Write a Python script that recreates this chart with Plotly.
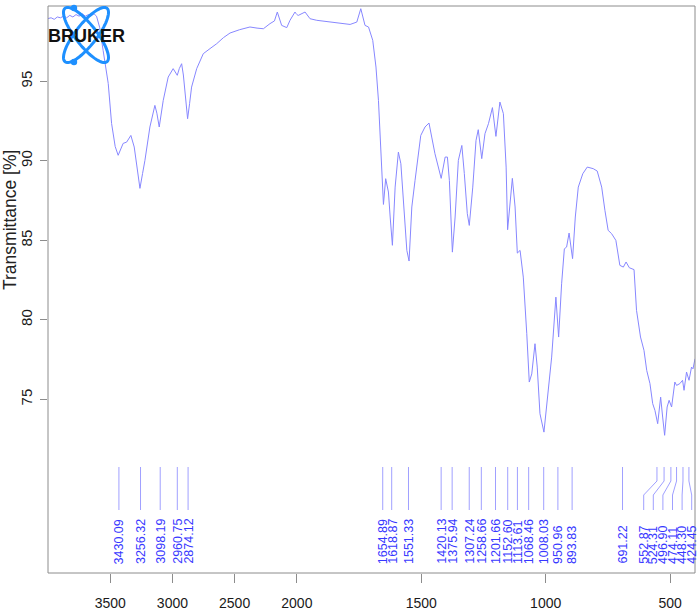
import numpy as np
import plotly.graph_objects as go

# ---------------- data ----------------
wavenumber = [4000, 3975, 3950, 3925, 3900, 3875, 3850, 3825, 3800, 3775, 3750, 3725, 3700, 3675, 3650, 3630, 3610,
              3585, 3557, 3535, 3516, 3489, 3460, 3436, 3415, 3396, 3368, 3334, 3307, 3285, 3261, 3240, 3221, 3181,
              3141, 3125, 3106, 3074, 3034, 2994, 2975, 2961, 2945, 2926, 2912, 2899, 2878, 2862, 2846, 2805, 2752,
              2698, 2644, 2590, 2537, 2460, 2377, 2320, 2269, 2216, 2180, 2157, 2140, 2122, 2081, 2055, 2015, 2000,
              1994, 1967, 1947, 1920, 1866, 1786, 1759, 1743, 1726, 1712, 1695, 1682, 1672, 1665, 1655, 1652, 1643,
              1632, 1625, 1616, 1605, 1592, 1582, 1572, 1558, 1549, 1538, 1525, 1512, 1502, 1485, 1469, 1458, 1445,
              1420, 1404, 1395, 1387, 1375, 1364, 1351, 1337, 1327, 1315, 1307, 1293, 1280, 1271, 1257, 1244, 1230,
              1214, 1200, 1184, 1170, 1159, 1153, 1143, 1134, 1123, 1114, 1103, 1090, 1076, 1066, 1056, 1043, 1034,
              1023, 1007, 994, 976, 959, 948, 936, 925, 916, 906, 892, 881, 869, 851, 833, 809, 793, 775, 762, 749,
              735, 718, 702, 688, 677, 664, 645, 635, 619, 605, 594, 581, 570, 561, 550, 538, 530, 522, 512, 504,
              494, 481, 474, 461, 450, 444, 434, 424, 414, 408, 400]
transmittance = [98.95, 99.0, 98.9, 99.05, 99.0, 99.1, 99.0, 99.15, 99.05, 99.2, 99.1, 99.25, 99.1, 99.2, 99.15,
                 99.25, 99.1, 98.4, 96.95, 95.9, 94.87, 92.35, 90.9, 90.35, 90.8, 91.1, 91.18, 91.6, 90.87, 89.6,
                 88.27, 89.2, 90.03, 92.13, 93.49, 93.0, 92.13, 93.8, 95.27, 95.8, 95.6, 95.38, 95.8, 96.11, 95.4,
                 94.43, 92.65, 93.6, 94.64, 95.8, 96.74, 97.06, 97.37, 97.75, 98.04, 98.25, 98.42, 98.35, 98.31,
                 98.63, 98.8, 99.36, 98.9, 98.52, 98.38, 98.84, 99.36, 99.2,
                 99.15, 99.36, 98.94, 98.84, 98.73, 98.58, 98.73, 99.57, 98.52, 98.42, 97.58, 95.9, 93.8, 91.29,
                 88.14, 87.26, 88.88, 88.04, 86.47, 84.69, 88.35, 90.55, 89.82, 87.52, 84.37, 83.7, 87.1, 88.77,
                 90.45, 91.6, 92.13, 92.38, 91.5, 90.45, 88.9, 90.24, 90.24, 88.77, 84.26, 86.47, 90.03, 90.97,
                 89.2, 86.68, 85.94, 88.35, 91.29, 91.96, 90.14, 91.71, 92.34, 93.35, 91.54, 93.7, 92.97, 89.61,
                 85.67, 87.52, 88.9, 87.1, 84.2, 84.37, 82.69, 79.13, 76.09, 76.6, 78.5, 77.03, 74.1, 72.94, 74.94,
                 77.66, 81.43, 78.92, 82.27, 84.47, 84.58, 85.46, 83.85, 86.47, 88.35, 89.19, 89.61, 89.51, 89.36,
                 88.35, 86.89, 85.63, 85.42, 85.0, 83.43, 83.32, 83.64, 83.28, 83.16, 80.6, 78.92, 78.08, 76.82,
                 75.99, 74.73, 74.31, 73.47, 75.14, 73.89, 72.74, 74.52, 74.94, 74.52, 76.09, 75.88, 75.99, 76.2,
                 75.57, 76.72, 76.2, 77.03, 76.92, 77.55]
peak_labels = ["3430.09", "3256.32", "3098.19", "2960.75", "2874.12", "1654.89", "1618.87", "1551.33",
               "1420.13", "1375.94", "1307.24", "1258.66", "1201.66", "1152.60", "1113.61", "1068.46",
               "1008.03", "950.96", "893.83", "691.22", "552.87", "524.31", "496.90", "474.11", "448.30", "424.45"]
x_ticks_high = [3500, 3000, 2500, 2000]
x_ticks_low = [1500, 1000, 500]
y_ticks = [75, 80, 85, 90, 95]

# ---------------- layout constants ----------------
W, H = 700, 613
ML, MR, MT, MB = 48, 5, 6, 40
PW, PH = W - ML - MR, H - MT - MB
SPLIT = 2000.0
WMAX, WMIN = 4000.0, 400.0
D = (WMAX - SPLIT) / ((WMAX - SPLIT) + 2 * (SPLIT - WMIN))  # expanded scale below 2000

CURVE = "rgb(135,135,255)"
LABEL_TXT = "rgb(55,55,255)"
LABEL_LINE = "rgb(160,160,255)"
FRAME = "#8c8c8c"
FONT = "Liberation Sans, Arial, sans-serif"


def wn_to_paper(w):
    if w >= SPLIT:
        return (WMAX - w) / (WMAX - SPLIT) * D
    return D + (SPLIT - w) / (SPLIT - WMIN) * (1 - D)


def px_to_px(px):
    return (px - ML) / PW


def py_to_py(py):
    return (MT + PH - py) / PH


wn = np.array(wavenumber, dtype=float)
tr = np.array(transmittance, dtype=float)
hi = wn >= SPLIT
lo = wn <= SPLIT

fig = go.Figure()
fig.add_trace(go.Scatter(x=wn[hi], y=tr[hi], mode="lines", line=dict(color=CURVE, width=1),
                         xaxis="x", yaxis="y", showlegend=False, hoverinfo="skip"))
fig.add_trace(go.Scatter(x=wn[lo], y=tr[lo], mode="lines", line=dict(color=CURVE, width=1),
                         xaxis="x2", yaxis="y", showlegend=False, hoverinfo="skip"))

shapes = []
annotations = []

# frame
shapes.append(dict(type="rect", xref="paper", yref="paper", x0=0, x1=1, y0=0, y1=1,
                   line=dict(color=FRAME, width=1), layer="above"))

# peak labels with de-overlap
peak_w = [float(s) for s in peak_labels]
peak_px = [ML + wn_to_paper(w) * PW for w in peak_w]
GAP = 9.6
RIGHT_LIMIT = ML + PW - 3.3
lab_px = list(peak_px)
for i in range(1, len(lab_px)):
    lab_px[i] = max(lab_px[i], lab_px[i - 1] + GAP)
lab_px[-1] = min(lab_px[-1], RIGHT_LIMIT)
for i in range(len(lab_px) - 2, -1, -1):
    lab_px[i] = min(lab_px[i], lab_px[i + 1] - GAP)

Y_TOP, Y_K1, Y_K2, Y_BOT, Y_TXT = 467, 481, 495, 510, 566
for s, p, q in zip(peak_labels, peak_px, lab_px):
    xp, xq = px_to_px(p), px_to_px(q)
    if abs(p - q) < 0.8:
        path = f"M {xp},{py_to_py(Y_TOP)} L {xp},{py_to_py(Y_BOT)}"
    else:
        path = (f"M {xp},{py_to_py(Y_TOP)} L {xp},{py_to_py(Y_K1)} "
                f"L {xq},{py_to_py(Y_K2)} L {xq},{py_to_py(Y_BOT)}")
    shapes.append(dict(type="path", xref="paper", yref="paper", path=path,
                       line=dict(color=LABEL_LINE, width=1)))
    annotations.append(dict(text=s, xref="paper", yref="paper", x=xq, y=py_to_py(Y_TXT),
                            xanchor="center", yanchor="bottom", textangle=-90, showarrow=False,
                            font=dict(family=FONT, size=12.5, color=LABEL_TXT)))

# y title
annotations.append(dict(text="Transmittance [%]", xref="paper", yref="paper",
                        x=px_to_px(10), y=py_to_py(220), xanchor="center", yanchor="middle",
                        textangle=-90, showarrow=False, font=dict(family=FONT, size=17.5, color="#222")))

# Bruker logo: atom orbits + text
LOGO = "rgb(30,144,255)"
cx, cy = 86.0, 35.0
t = np.linspace(0, 2 * np.pi, 80)
for ang in (52, -52):
    a, b = 34.0, 10.5
    th = np.deg2rad(ang)
    ex = cx + a * np.cos(t) * np.cos(th) - b * np.sin(t) * np.sin(th)
    ey = cy + a * np.cos(t) * np.sin(th) + b * np.sin(t) * np.cos(th)
    pts = [f"{px_to_px(x):.5f},{py_to_py(y):.5f}" for x, y in zip(ex, ey)]
    shapes.append(dict(type="path", xref="paper", yref="paper", layer="above",
                       path="M " + " L ".join(pts) + " Z", line=dict(color=LOGO, width=3)))
for dx, dy in ((74, 8), (74, 62)):
    r = 3.2
    shapes.append(dict(type="circle", xref="paper", yref="paper", layer="above",
                       x0=px_to_px(dx - r), x1=px_to_px(dx + r), y0=py_to_py(dy + r), y1=py_to_py(dy - r),
                       fillcolor=LOGO, line=dict(color=LOGO, width=0)))
annotations.append(dict(text="<b>BRUKER</b>", xref="paper", yref="paper", x=px_to_px(86), y=py_to_py(36),
                        xanchor="center", yanchor="middle", showarrow=False,
                        font=dict(family="Liberation Sans, Arial, sans-serif", size=18, color="#111")))

axis_common = dict(showgrid=False, zeroline=False, showline=False, ticks="outside", automargin=False,
                   tickcolor=FRAME, tickfont=dict(family=FONT, size=14, color="#1a1a1a"))

fig.update_layout(
    width=W, height=H, margin=dict(l=ML, r=MR, t=MT, b=MB, autoexpand=False),
    paper_bgcolor="white", plot_bgcolor="white",
    xaxis=dict(domain=[0, D], range=[WMAX, SPLIT], tickvals=x_ticks_high, ticklen=9,
               ticklabelstandoff=8, anchor="y", **axis_common),
    xaxis2=dict(domain=[D, 1], range=[SPLIT, WMIN], tickvals=x_ticks_low, ticklen=9,
                ticklabelstandoff=8, anchor="y", **axis_common),
    yaxis=dict(range=[64.08, 99.74], tickvals=y_ticks, ticklen=7, tickangle=-90, ticklabelstandoff=2,
               **{**axis_common, "tickfont": dict(family=FONT, size=15, color="#1a1a1a")}),
    shapes=shapes, annotations=annotations,
)

fig.write_html("out.html", config={"displayModeBar": False, "staticPlot": True},
               post_script="document.body.style.margin='0';document.body.style.overflow='hidden';")
